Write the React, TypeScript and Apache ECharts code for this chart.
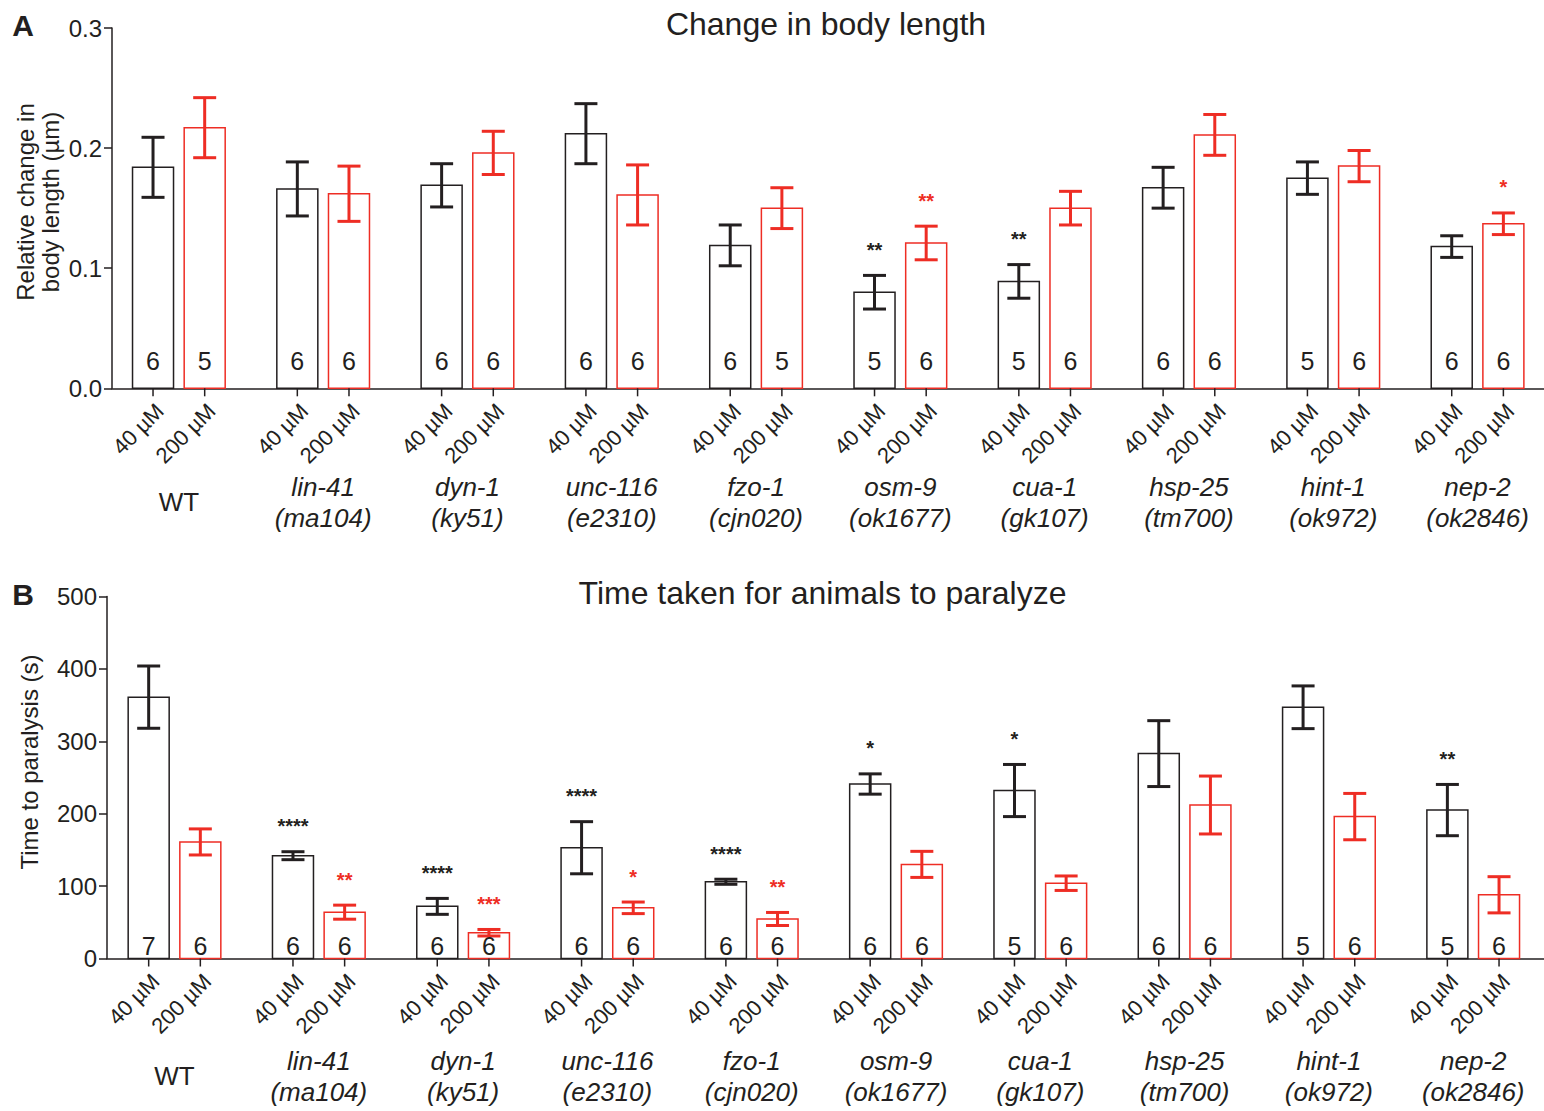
import React, { useEffect, useRef } from "react";
import * as echarts from "echarts";

// ---------- data ----------
const genes = ["WT", "lin-41", "dyn-1", "unc-116", "fzo-1", "osm-9", "cua-1", "hsp-25", "hint-1", "nep-2"];
const alleles = ["", "(ma104)", "(ky51)", "(e2310)", "(cjn020)", "(ok1677)", "(gk107)", "(tm700)", "(ok972)", "(ok2846)"];
const concLabels = ["40 µM", "200 µM"];

// Panel A: change in body length (µm)
const lenMean40 = [0.184, 0.166, 0.169, 0.212, 0.119, 0.080, 0.089, 0.167, 0.175, 0.118];
const lenSem40 = [0.025, 0.0225, 0.018, 0.025, 0.017, 0.014, 0.014, 0.017, 0.0135, 0.009];
const lenMean200 = [0.217, 0.162, 0.196, 0.161, 0.150, 0.121, 0.150, 0.211, 0.185, 0.137];
const lenSem200 = [0.025, 0.023, 0.018, 0.025, 0.017, 0.014, 0.014, 0.017, 0.013, 0.009];
const lenN40 = [6, 6, 6, 6, 6, 5, 5, 6, 5, 6];
const lenN200 = [5, 6, 6, 6, 5, 6, 6, 6, 6, 6];
const lenStars40 = ["", "", "", "", "", "**", "**", "", "", ""];
const lenStars200 = ["", "", "", "", "", "**", "", "", "", "*"];
const lenTicks = [0, 0.1, 0.2, 0.3];

// Panel B: time to paralysis (s)
const timeMean40 = [361, 142, 72, 153, 106, 241, 232, 283, 347, 205];
const timeSem40 = [43, 5.5, 11, 36, 3.5, 14, 36, 45.5, 29.5, 35.4];
const timeMean200 = [161, 64, 35.6, 70, 54.6, 130, 104, 212, 196, 88];
const timeSem200 = [18, 9.7, 4.5, 8, 9, 18, 10, 40, 32, 25];
const timeN40 = [7, 6, 6, 6, 6, 6, 5, 6, 5, 5];
const timeN200 = [6, 6, 6, 6, 6, 6, 6, 6, 6, 6];
const timeStars40 = ["", "****", "****", "****", "****", "*", "*", "", "", "**"];
const timeStars200 = ["", "**", "***", "*", "**", "", "", "", "", ""];
const timeTicks = [0, 100, 200, 300, 400, 500];

// ---------- styling / layout ----------
const INK = "#231f20";
const RED = "#ee2d24";
const FONT = "'Liberation Sans', Arial, Helvetica, sans-serif";
const BAR_W = 41;
const CAP_W = 23;
const BAR_SHIFT = 0.179; // in group units

const panels = [
  {
    means: [lenMean40, lenMean200],
    sems: [lenSem40, lenSem200],
    ns: [lenN40, lenN200],
    stars: [lenStars40, lenStars200],
    ticks: lenTicks,
    nLift: 27,
    grp1: 99,
    grp2: 130,
    grpMid: 114,
    fmt: (v: number) => v.toFixed(1),
  },
  {
    means: [timeMean40, timeMean200],
    sems: [timeSem40, timeSem200],
    ns: [timeN40, timeN200],
    stars: [timeStars40, timeStars200],
    ticks: timeTicks,
    nLift: 12.5,
    grp1: 102,
    grp2: 133,
    grpMid: 117,
    fmt: (v: number) => String(v),
  },
];

function barSeries(p: number, c: number) {
  const P = panels[p];
  const shift = c === 0 ? -BAR_SHIFT : BAR_SHIFT;
  const color = c === 0 ? INK : RED;
  const data = P.means[c].map((m, i) => [i + shift, m, P.sems[c][i], P.ns[c][i]]);
  return {
    type: "custom",
    xAxisIndex: p,
    yAxisIndex: p,
    clip: false,
    silent: true,
    data,
    encode: { x: 0, y: 1 },
    renderItem: (params: any, api: any) => {
      const i = params.dataIndex;
      const xv = api.value(0);
      const m = api.value(1);
      const s = api.value(2);
      const n = api.value(3);
      const base = api.coord([xv, 0]);
      const cx = base[0];
      const y0 = base[1];
      const yTop = api.coord([xv, m])[1];
      const yHi = api.coord([xv, m + s])[1];
      const yLo = api.coord([xv, m - s])[1];
      const children: any[] = [
        {
          type: "rect",
          shape: { x: cx - BAR_W / 2, y: yTop, width: BAR_W, height: y0 - yTop },
          style: { fill: "#fff", stroke: color, lineWidth: 1.5 },
        },
        { type: "line", shape: { x1: cx, y1: yHi, x2: cx, y2: yLo }, style: { stroke: color, lineWidth: 3 } },
        { type: "line", shape: { x1: cx - CAP_W / 2, y1: yHi, x2: cx + CAP_W / 2, y2: yHi }, style: { stroke: color, lineWidth: 3 } },
        { type: "line", shape: { x1: cx - CAP_W / 2, y1: yLo, x2: cx + CAP_W / 2, y2: yLo }, style: { stroke: color, lineWidth: 3 } },
        {
          type: "text",
          x: cx,
          y: y0 - P.nLift,
          style: { text: String(n), fill: INK, fontSize: 25, fontFamily: FONT, align: "center", verticalAlign: "middle" },
        },
        { type: "line", shape: { x1: cx, y1: y0, x2: cx, y2: y0 + 8 }, style: { stroke: INK, lineWidth: 1.5 } },
        {
          type: "text",
          x: cx + 7,
          y: y0 + 19,
          rotation: Math.PI / 4,
          style: { text: concLabels[c], fill: INK, fontSize: 22, fontFamily: FONT, align: "right", verticalAlign: "middle" },
        },
      ];
      const star = P.stars[c][i];
      if (star) {
        children.push({
          type: "text",
          x: cx,
          y: yHi - 25.5,
          style: { text: star, fill: color, fontSize: 20, fontWeight: "bold", fontFamily: FONT, align: "center", verticalAlign: "middle" },
        });
      }
      return { type: "group", children };
    },
  };
}

function groupLabelSeries(p: number) {
  const P = panels[p];
  const data = genes.map((g, i) => [i, 0]);
  return {
    type: "custom",
    xAxisIndex: p,
    yAxisIndex: p,
    clip: false,
    silent: true,
    data,
    encode: { x: 0, y: 1 },
    renderItem: (params: any, api: any) => {
      const i = params.dataIndex;
      const pt = api.coord([api.value(0), 0]);
      const base = { fill: INK, fontSize: 26, fontFamily: FONT, align: "center", verticalAlign: "middle" };
      if (!alleles[i]) {
        return { type: "text", x: pt[0], y: pt[1] + P.grpMid, style: { ...base, text: genes[i] } };
      }
      return {
        type: "group",
        children: [
          { type: "text", x: pt[0], y: pt[1] + P.grp1, style: { ...base, text: genes[i], fontStyle: "italic" } },
          { type: "text", x: pt[0], y: pt[1] + P.grp2, style: { ...base, text: alleles[i], fontStyle: "italic" } },
        ],
      };
    },
  };
}

function yAxisCfg(p: number) {
  const P = panels[p];
  const t = P.ticks;
  return {
    gridIndex: p,
    type: "value",
    min: t[0],
    max: t[t.length - 1],
    interval: t[1] - t[0],
    axisLine: { show: true, onZero: false, lineStyle: { color: INK, width: 1.5 } },
    axisTick: { show: true, length: 8, lineStyle: { color: INK, width: 1.5 } },
    axisLabel: { formatter: P.fmt, fontSize: 24, color: INK, fontFamily: FONT, margin: 10 },
    splitLine: { show: false },
  };
}

function xAxisCfg(p: number, min: number, max: number) {
  return {
    gridIndex: p,
    type: "value",
    min,
    max,
    axisLine: { show: true, onZero: false, lineStyle: { color: INK, width: 1.5 } },
    axisTick: { show: false },
    axisLabel: { show: false },
    splitLine: { show: false },
  };
}

export default function App() {
  const ref = useRef<HTMLDivElement>(null);
  useEffect(() => {
    if (!ref.current) return;
    const chart = echarts.init(ref.current, null, { renderer: "svg" });
    const txt = (x: number, y: number, text: string, extra: any = {}, rotation = 0) => ({
      type: "text",
      x,
      y,
      rotation,
      style: { text, fill: INK, fontFamily: FONT, align: "center", verticalAlign: "middle", ...extra },
    });
    chart.setOption({
      animation: false,
      backgroundColor: "#ffffff",
      grid: [
        { left: 112, right: 0, top: 28, bottom: 1111 - 388.3, outerBoundsMode: "none" },
        { left: 107, right: 0, top: 596.5, bottom: 1111 - 958.5, outerBoundsMode: "none" },
      ],
      xAxis: [xAxisCfg(0, -0.4633, 9.4605), xAxisCfg(1, -0.4678, 9.4906)],
      yAxis: [yAxisCfg(0), yAxisCfg(1)],
      graphic: [
        txt(826, 24, "Change in body length", { fontSize: 32 }),
        txt(822.5, 593, "Time taken for animals to paralyze", { fontSize: 32 }),
        txt(23, 25.5, "A", { fontSize: 30, fontWeight: "bold" }),
        txt(23, 594.5, "B", { fontSize: 30, fontWeight: "bold" }),
        txt(37.5, 202, "Relative change in\nbody length (µm)", { fontSize: 24, lineHeight: 25 }, Math.PI / 2),
        txt(29, 762, "Time to paralysis (s)", { fontSize: 24 }, Math.PI / 2),
      ],
      series: [
        barSeries(0, 0),
        barSeries(0, 1),
        groupLabelSeries(0),
        barSeries(1, 0),
        barSeries(1, 1),
        groupLabelSeries(1),
      ],
    });
    return () => chart.dispose();
  }, []);
  return (
    <div
      ref={ref}
      style={{ position: "absolute", left: 0, top: 0, width: 1544, height: 1111, background: "#fff" }}
    />
  );
}
